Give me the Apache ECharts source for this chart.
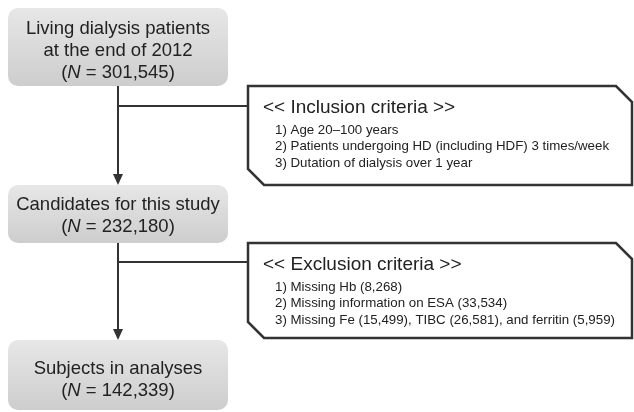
<!DOCTYPE html>
<html><head><meta charset="utf-8">
<script src="https://cdn.jsdelivr.net/npm/echarts@6/dist/echarts.min.js"></script>
<style>html,body{margin:0;padding:0;background:#fff}#c{width:634px;height:412px}</style>
</head><body><div id="c"></div>
<script>
// Flow stages (main boxes)
var stageLines = [
  ["Living dialysis patients", "at the end of 2012"],
  ["Candidates for this study"],
  ["Subjects in analyses"]
];
var stageN = ["301,545", "232,180", "142,339"];
// Criteria boxes
var criteriaTitles = ["<< Inclusion criteria >>", "<< Exclusion criteria >>"];
var inclusionItems = [
  "1) Age 20\u2013100 years",
  "2) Patients undergoing HD (including HDF) 3 times/week",
  "3) Dutation of dialysis over 1 year"
];
var exclusionItems = [
  "1) Missing Hb (8,268)",
  "2) Missing information on ESA (33,534)",
  "3) Missing Fe (15,499), TIBC (26,581), and ferritin (5,959)"
];

var FONT = '"Liberation Sans", Arial, sans-serif';
var ink = '#222';
var lineCol = '#333';
var boxes = [
  {x: 8, y: 8, w: 220, h: 78, ty: 51},
  {x: 8, y: 185, w: 220, h: 58, ty: 216},
  {x: 8, y: 340, w: 220, h: 70, ty: 380}
];
var crit = [
  {x: 248, y: 86, w: 384, h: 99},
  {x: 248, y: 243, w: 384, h: 95}
];
var cx = 118;
var els = [];
var grad = {type: 'linear', x: 0, y: 0, x2: 0, y2: 1, colorStops: [{offset: 0, color: '#e7e7e7'}, {offset: 1, color: '#cdcdcd'}]};

// connectors
var branchY = [106, 262];
for (var i = 0; i < 2; i++) {
  var y0 = boxes[i].y + boxes[i].h, y1 = boxes[i + 1].y;
  els.push({type: 'line', shape: {x1: cx, y1: y0, x2: cx, y2: y1 - 9}, style: {stroke: lineCol, lineWidth: 2}});
  els.push({type: 'polygon', shape: {points: [[cx - 5, y1 - 11], [cx + 5, y1 - 11], [cx, y1]]}, style: {fill: lineCol}});
  els.push({type: 'line', shape: {x1: cx, y1: branchY[i], x2: crit[i].x, y2: branchY[i]}, style: {stroke: lineCol, lineWidth: 2}});
}

// main boxes
for (var i = 0; i < 3; i++) {
  var b = boxes[i];
  els.push({type: 'rect', shape: {x: b.x, y: b.y, width: b.w, height: b.h, r: 10}, style: {fill: grad}});
  var all = stageLines[i].map(function (t) { return '{t|' + t + '}'; });
  all.push('{t|(}{i|N}{t| = ' + stageN[i] + ')}');
  els.push({type: 'text', x: b.x + b.w / 2, y: b.ty,
    style: {text: all.join('\n'), align: 'center', verticalAlign: 'middle',
      rich: {t: {fontFamily: FONT, fontSize: 18.5, fill: ink, lineHeight: 22},
             i: {fontFamily: FONT, fontSize: 18.5, fontStyle: 'italic', fill: ink, lineHeight: 22}}}});
}

// criteria boxes
var itemsArr = [inclusionItems, exclusionItems];
for (var i = 0; i < 2; i++) {
  var c = crit[i], ch = 16;
  var pts = [[c.x, c.y], [c.x + c.w - ch, c.y], [c.x + c.w, c.y + ch], [c.x + c.w, c.y + c.h],
             [c.x + ch, c.y + c.h], [c.x, c.y + c.h - ch]];
  els.push({type: 'polygon', shape: {points: pts}, style: {fill: '#fff', stroke: lineCol, lineWidth: 2.5}});
  els.push({type: 'text', x: c.x + 15, y: c.y + 22, style: {text: criteriaTitles[i], font: '19px ' + FONT, fill: ink, verticalAlign: 'middle'}});
  itemsArr[i].forEach(function (t, k) {
    els.push({type: 'text', x: c.x + 27, y: c.y + 44 + k * 16.5, style: {text: t, font: '13.3px ' + FONT, fill: ink, verticalAlign: 'middle'}});
  });
}

var chart = echarts.init(document.getElementById('c'));
chart.setOption({animation: false, graphic: {elements: els}});
</script></body></html>
